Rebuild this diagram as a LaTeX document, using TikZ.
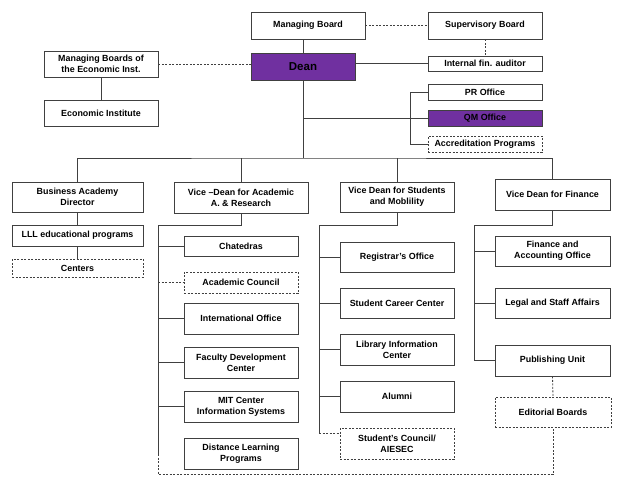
\documentclass[tikz,border=0pt]{standalone}
\usepackage{fontspec}
\setmainfont{Liberation Sans}
\usepackage{tikz}
\usetikzlibrary{positioning}
\usepackage{xcolor}
\definecolor{deanpurple}{HTML}{7030A0}
\definecolor{linegray}{HTML}{404040}

\tikzset{
  unit/.style={draw=linegray, line width=0.8pt, fill=white, align=center, inner sep=1pt,
    font=\fontsize{8.9}{11}\selectfont\bfseries, minimum width=114pt, minimum height=30pt},
  dashunit/.style={unit, dash pattern=on 2pt off 1.5pt},
  purpleunit/.style={unit, fill=deanpurple},
  link/.style={draw=linegray, line width=0.8pt},
  dashlink/.style={link, dash pattern=on 2pt off 1.5pt}
}

\begin{document}
\begin{tikzpicture}[x=1pt,y=-1pt]
				\useasboundingbox[fill=white] (0,0) rectangle (620,480);
				% top level
				\node[unit, minimum height=27pt] (mboard) at (308,25.5) {Managing Board};
				\node[unit, minimum height=27pt] (sboard) at (485,25.5) {Supervisory Board};
				\node[purpleunit, minimum width=104pt, minimum height=27pt, font=\fontsize{11.5}{13}\selectfont\bfseries] (dean) at (303,66.5) {Dean};
				\node[unit, minimum height=26pt] (econboards) at (101,64) {Managing Boards of\\the Economic Inst.};
				\node[unit, minimum height=26pt] (econinst) at (101,113) {Economic Institute};
				\node[unit, minimum height=15pt] (auditor) at (485,63.5) {Internal fin. auditor};
				\node[unit, minimum height=16pt] (proffice) at (485,92) {PR Office};
				\node[purpleunit, minimum height=16pt] (qmoffice) at (485,118) {QM Office};
				\node[dashunit, minimum height=16pt] (accred) at (485,144) {Accreditation Programs};
				% vice deans
				\node[unit, minimum width=131pt] (bizacad) at (77.5,197) {Business Academy\\Director};
				\node[unit, minimum width=134pt, minimum height=31pt] (vdacad) at (241,197.5) {Vice –Dean for Academic\\A. \& Research};
				\node[unit] (vdstud) at (397,197) {Vice Dean for Students\\and Moblility};
				\node[unit, minimum width=115pt, minimum height=31pt] (vdfin) at (552.5,194.5) {Vice Dean for Finance};
				% business academy
				\node[unit, minimum width=131pt, minimum height=21pt] (lll) at (77.5,235.5) {LLL educational programs};
				\node[dashunit, minimum width=131pt, minimum height=18pt] (centers) at (77.5,268) {Centers};
				% academic
				\node[unit, minimum height=20pt] (chatedras) at (241,246) {Chatedras};
				\node[dashunit, minimum height=21pt] (acouncil) at (241,282.5) {Academic Council};
				\node[unit, minimum height=31pt] (intoffice) at (241,318.5) {International Office};
				\node[unit, minimum height=31pt] (facdev) at (241,362.5) {Faculty Development\\Center};
				\node[unit, minimum height=31pt] (mitcenter) at (241,406.5) {MIT Center\\Information Systems};
				\node[unit, minimum height=31pt] (distlearn) at (241,453.5) {Distance Learning\\Programs};
				% students
				\node[unit] (registrar) at (397,257) {Registrar’s Office};
				\node[unit] (career) at (397,303) {Student Career  Center};
				\node[unit, minimum height=31pt] (library) at (397,349.5) {Library Information\\Center};
				\node[unit, minimum height=31pt] (alumni) at (397,396.5) {Alumni};
				\node[dashunit, minimum height=31pt] (scouncil) at (397,443.5) {Student’s Council/\\AIESEC};
				% finance
				\node[unit, minimum width=115pt] (finacc) at (552.5,251) {Finance and\\Accounting Office};
				\node[unit, minimum width=115pt] (legal) at (552.5,303) {Legal and  Staff Affairs};
				\node[unit, minimum width=115pt, minimum height=31pt] (publish) at (552.5,360.5) {Publishing Unit};
				\node[dashunit, minimum width=116pt] (editorial) at (553,412) {Editorial Boards};
				% spine points
				\coordinate (bus) at (303,158);
				\coordinate (acadtop) at (158,225);
				\coordinate (acadend) at (158,454);
				\coordinate (studtop) at (319,225);
				\coordinate (studend) at (319,433);
				\coordinate (fintop) at (474,225);
				% top connectors
				\draw[link] (dean.north) -- (dean.north |- mboard.south);
				\draw[dashlink] (mboard.east) -- (sboard.west);
				\draw[dashlink] (sboard.south) -- (auditor.north);
				\draw[link] (dean.east |- auditor) -- (auditor.west);
				\draw[dashlink] (econboards.east) -- (econboards.east -| dean.west);
				\draw[link] (econboards.south) -- (econinst.north);
				\draw[link] (dean.south) -- (bus);
				\draw[link] (dean.south |- qmoffice) -- (qmoffice.west);
				\draw[link] (proffice.west) -- ++(-17,0) |- (accred.west);
				% bus
				\draw[link] (bizacad.north) |- (bus) -| (vdfin.north);
				\draw[link] (vdacad.north) -- (vdacad.north |- bus);
				\draw[link] (vdstud.north) -- (vdstud.north |- bus);
				% business academy
				\draw[link] (bizacad.south) -- (lll.north);
				\draw[link] (lll.south) -- (centers.north);
				% academic
				\draw[link] (vdacad.south) |- (acadtop) -- (acadend);
				\draw[link] (acadtop |- chatedras) -- (chatedras.west);
				\draw[dashlink] (acadtop |- acouncil) -- (acouncil.west);
				\draw[link] (acadtop |- intoffice) -- (intoffice.west);
				\draw[link] (acadtop |- facdev) -- (facdev.west);
				\draw[link] (acadtop |- mitcenter) -- (mitcenter.west);
				% students
				\draw[link] (vdstud.south) |- (studtop) -- (studend);
				\draw[link] (studtop |- registrar) -- (registrar.west);
				\draw[link] (studtop |- career) -- (career.west);
				\draw[link] (studtop |- library) -- (library.west);
				\draw[link] (studtop |- alumni) -- (alumni.west);
				\draw[dashlink] (studend) -- (studend -| scouncil.west);
				% finance
				\draw[link] (vdfin.south) |- (fintop) |- (publish.west);
				\draw[link] (fintop |- finacc) -- (finacc.west);
				\draw[link] (fintop |- legal) -- (legal.west);
				\draw[dashlink] (publish.south) -- (editorial.north);
				\draw[dashlink] (acadend) -- ++(0,20) -| (editorial.south);
			\end{tikzpicture}
\end{document}
